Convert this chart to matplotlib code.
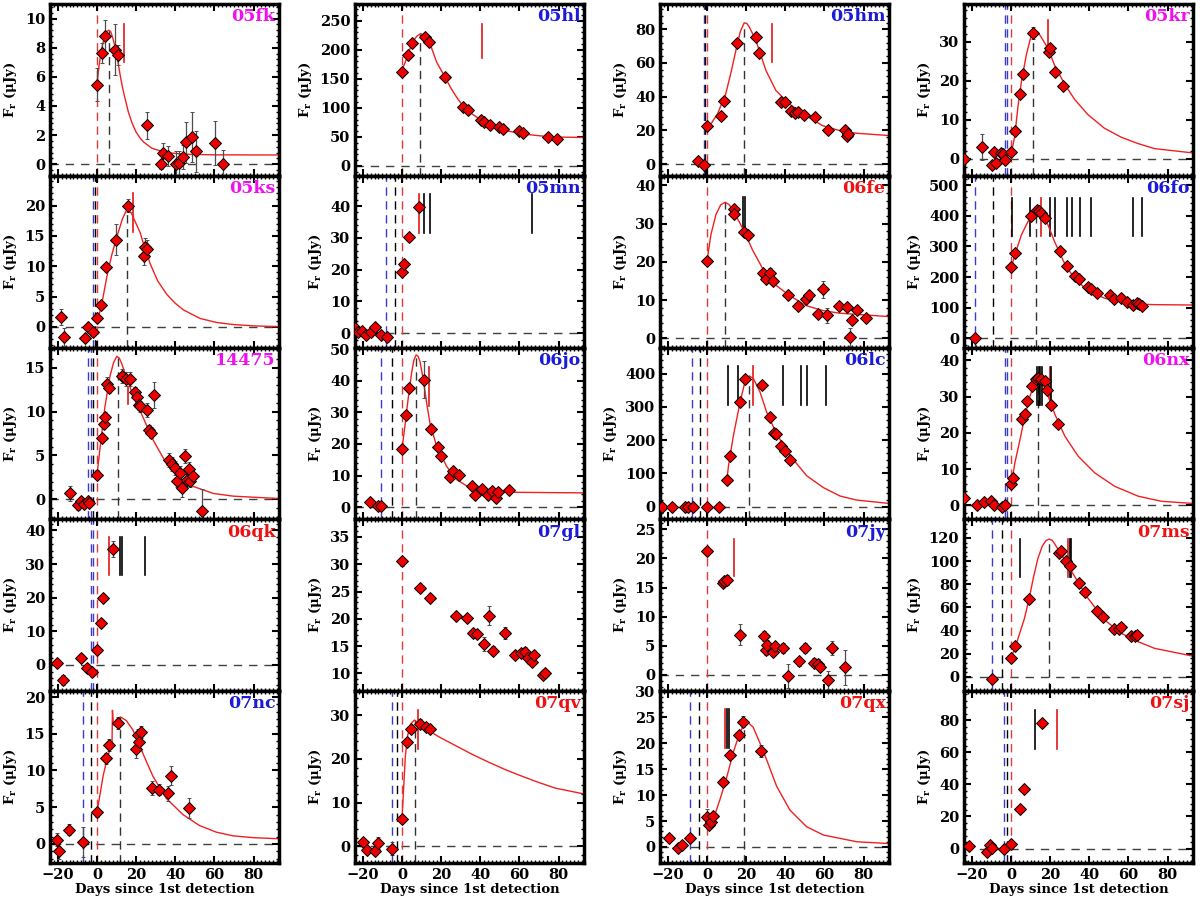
import matplotlib
matplotlib.use("Agg")
import matplotlib.pyplot as plt
from matplotlib.ticker import MultipleLocator, AutoMinorLocator

plt.rcParams['font.family'] = ['DejaVu Serif']
plt.rcParams['font.weight'] = 'bold'
plt.rcParams['mathtext.fontset'] = 'dejavuserif'
plt.rcParams['mathtext.default'] = 'bf'

MAG = '#ee11ee'
BLU = '#1a1ad8'
RED = '#ee1111'

# ---------------- data (days since 1st detection, flux in uJy) ----------------
fk_t = [0, 2.4, 3.9, 9.4, 10.9, 25.4, 32.5, 33.9, 36.5, 40.3, 42.0, 43.9, 45.6, 48.7, 50.4, 60.5, 64.3]
fk_f = [5.47, 7.62, 8.77, 7.85, 7.5, 2.66, 0.0, 0.78, 0.55, 0.0, 0.07, 0.5, 1.5, 1.85, 0.88, 1.43, 0.0]
fk_e = [1.1, 0.7, 1.1, 1.75, 0.7, 0.9, 0.3, 0.7, 0.7, 0.9, 0.8, 0.8, 1.4, 1.7, 1.4, 1.5, 1.0]
fk_ct = [0, 1, 2, 3, 4, 5, 6, 7, 8, 9, 10, 11, 12, 13, 14, 16, 18, 20, 22, 24, 28, 35, 45, 60, 93]
fk_cf = [5.5, 6.7, 7.6, 8.3, 8.8, 9.1, 9.2, 9.1, 8.7, 8.2, 7.6, 6.8, 6.0, 5.3, 4.7, 3.6, 2.8, 2.2, 1.8,
         1.5, 1.1, 0.8, 0.68, 0.64, 0.63]
fk_vl = [(0, 'r')]
fk_peak = (6.3, 9.2)
fk_spec = [(14.0, 'r')]
fk_sr = (7.0, 9.65)

ks_t = [-18.6, -16.7, -6.1, -4.4, -1.8, 0, 1.9, 4.6, 9.9, 16.1, 24.1, 24.5, 25.5]
ks_f = [1.7, -1.6, -1.9, 0.0, -0.85, 1.5, 3.55, 9.86, 14.4, 20.0, 11.7, 13.1, 12.8]
ks_e = [1.3, 1.5, 0.6, 0.3, 0.4, 0.6, 0.5, 0.6, 2.5, 1.0, 1.5, 1.5, 1.5]
ks_ct = [0, 2, 5, 7.5, 10.2, 13, 15.2, 17.5, 20, 22.1, 24.5, 27.2, 31, 35.7, 40, 44.2, 52.7, 61.2, 69.7, 80, 93]
ks_cf = [1.0, 3.0, 8.2, 11.8, 14.9, 17.8, 19.3, 18.8, 17.0, 15.5, 12.9, 10.4, 7.6, 5.35, 3.9, 2.8, 1.4,
         0.73, 0.4, 0.18, 0.05]
ks_vl = [(-1.8, 'b'), (-0.9, 'k'), (0, 'r')]
ks_peak = (15.2, 19.3)
ks_spec = [(18.6, 'r')]
ks_sr = (15.7, 22.1)

sn14475_t = [-13.6, -9.9, -8.2, -6.5, -4.8, -3.9, 0, 2.6, 3.4, 4.3, 5.0, 6.0, 12.8, 14.9, 16.9, 19.3, 20.3, 21.4,
             22.1, 25.5, 26.5, 27.5, 29.1, 36.6, 38.3, 40.0, 40.8, 42.5, 43.4, 45.1, 46.0, 46.8, 47.7, 48.9, 53.8]
sn14475_f = [0.66, -0.7, -0.23, -0.5, -0.23, -0.4, 2.8, 7.0, 8.6, 9.4, 13.2, 12.7, 14.1, 13.7, 13.7, 12.2, 11.7, 10.8,
             10.6, 10.2, 7.9, 7.6, 11.9, 4.45, 4.06, 3.6, 2.1, 3.0, 1.25, 4.96, 2.2, 3.5, 2.1, 2.7, -1.3]
sn14475_e = [0.9, 0.5, 0.5, 0.5, 0.5, 0.5, 0.5, 0.5, 0.5, 0.5, 0.7, 0.6, 0.8, 0.8, 0.8, 0.6, 0.6, 0.6,
             0.6, 0.8, 0.6, 0.6, 1.5, 0.8, 0.8, 0.8, 0.7, 0.8, 1.0, 0.8, 0.7, 0.8, 0.7, 0.7, 2.5]
sn14475_ct = [0, 1.6, 4.1, 6.7, 8.5, 10.1, 11.4, 12.6, 15.2, 18.6, 23.7, 28.8, 35.7, 42.5, 49.3, 59.5, 69.7, 93]
sn14475_cf = [2.8, 5.9, 10.6, 14.1, 15.6, 16.3, 16.1, 15.5, 13.75, 11.8, 9.26, 6.7, 4.0, 2.4, 1.45, 0.66, 0.35, 0.08]
sn14475_vl = [(-4.4, 'b'), (-3.2, 'b'), (-1.9, 'k'), (0, 'r')]
sn14475_peak = (10.5, 16.3)
sn14475_spec = [(15.6, 'r')]
sn14475_sr = (10.9, 12.8)

qk_t = [-20.3, -17.6, -8.3, -5.3, -2.4, 0, 1.9, 2.9, 8.4]
qk_f = [0.5, -4.5, 2.0, -1.0, -2.0, 4.5, 12.6, 19.9, 34.5]
qk_e = [1.0, 1.5, 0.8, 0.8, 0.8, 1.0, 0.8, 0.8, 2.5]
qk_vl = [(-3.1, 'b'), (-2.2, 'b'), (0, 'r')]
qk_spec = [(6.1, 'r'), (12.0, 'k'), (12.8, 'k'), (24.6, 'k')]
qk_sr = (26.9, 38.0)

nc_t = [-20.2, -19.3, -14.2, -6.9, 0, 4.6, 6.3, 10.9, 19.9, 21.0, 21.6, 22.6, 28.0, 31.7, 36.1, 37.8, 47.0]
nc_f = [0.6, -1.0, 1.95, 0.27, 4.3, 11.65, 13.45, 16.5, 12.9, 14.9, 13.9, 15.2, 7.6, 7.4, 6.9, 9.3, 4.9]
nc_e = [0.9, 1.0, 0.8, 2.0, 0.6, 0.8, 0.8, 0.8, 1.2, 0.8, 0.8, 0.8, 1.0, 0.8, 1.0, 1.3, 1.4]
nc_ct = [0, 1.4, 3.1, 4.8, 6.5, 7.7, 7.9, 8.4, 9.9, 11.9, 15.0, 18.4, 23.5, 28.6, 35.4, 43.9, 52.4, 61.0, 69.5,
         80, 93]
nc_cf = [4.3, 6.5, 9.2, 11.2, 12.8, 13.9, 18.2, 16.2, 16.9, 17.3, 16.8, 15.5, 12.3, 9.2, 6.2, 4.0, 2.5, 1.6, 1.1,
         0.85, 0.7]
nc_vl = [(-6.9, 'b'), (-3.2, 'k'), (0, 'r')]
nc_peak = (11.8, 17.3)

hl_t = [0, 2.9, 5.0, 11.8, 13.7, 22.0, 31.4, 33.6, 40.2, 42.1, 45.0, 49.7, 51.8, 60.0, 62.0, 74.5, 79.0]
hl_f = [161.7, 190.5, 212, 222, 213.6, 154, 101, 96.4, 79, 75, 71, 67.5, 63, 59.5, 56, 49, 46]
hl_e = [4] * 17
hl_ct = [0, 2.4, 5.0, 7.5, 9.6, 11.8, 14.3, 17.7, 22, 25, 28, 31, 34.8, 40, 45, 53.5, 62, 75.7, 93]
hl_cf = [165, 185, 211, 223.4, 228, 223, 211, 179, 153, 134, 118, 104, 92, 80, 72, 60.6, 55, 50, 49]
hl_vl = [(0, 'r')]
hl_peak = (9.2, 228)
hl_spec = [(41.0, 'r')]
hl_sr = (186.5, 244)

mn_t = [-23.8, -22.7, -20.6, -18.4, -16.0, -13.8, -10.9, -7.8, 0, 1.2, 3.8, 8.5]
mn_f = [1.6, 0.3, 0.86, -0.5, 0.3, 1.9, -0.4, -1.3, 19.4, 21.8, 30.3, 39.8]
mn_e = [0.5, 0.5, 0.5, 0.5, 0.5, 0.5, 0.5, 1.5, 0.8, 0.8, 0.8, 1.0]
mn_vl = [(-8.1, 'b'), (-3.8, 'k'), (0, 'r')]
mn_spec = [(8.5, 'r'), (11.4, 'k'), (14.3, 'k'), (66.2, 'k')]
mn_sr = (31.4, 43.8)

jo_t = [-16.1, -12.4, -10.9, 0, 2.0, 3.8, 11.1, 14.7, 18.4, 20.1, 24.7, 26.2, 29.3, 35.6, 37.5, 41.1, 43.8,
        46.2, 48.0, 49.2, 54.5]
jo_f = [1.7, 0.3, 0.3, 18.5, 29.3, 37.7, 40.3, 24.7, 19.0, 16.1, 9.5, 11.4, 10.1, 6.6, 3.8, 5.6, 3.8,
        5.05, 2.95, 4.7, 5.4]
jo_e = [0.5, 0.5, 0.5, 0.6, 0.6, 0.6, 5.9, 0.8, 0.6, 0.6, 0.6, 0.6, 0.6, 1.3, 0.6, 0.6, 0.6,
        0.6, 0.6, 0.6, 0.6]
jo_ct = [0, 1.5, 3.2, 4.9, 6.0, 7.2, 8.2, 9.2, 10.9, 12.6, 14.3, 17.7, 22.8, 27.9, 34.7, 41.5, 53.5, 93]
jo_cf = [18.5, 25.6, 34.5, 42.4, 46.3, 48.2, 47.8, 46.1, 40.3, 33, 26.6, 19.3, 12.9, 8.7, 6.1, 5.05, 4.7, 4.5]
jo_vl = [(-10.7, 'b'), (-5.1, 'k'), (0, 'r')]
jo_peak = (7.2, 48.2)
jo_spec = [(13.6, 'r')]
jo_sr = (32.1, 44.3)

gl_t = [0, 9.4, 14.5, 27.6, 33.4, 36.1, 38.2, 41.9, 44.6, 46.7, 52.6, 57.9, 60.6, 62.9, 64.4, 66.4, 67.5, 71.9, 73.2]
gl_f = [30.5, 25.6, 23.8, 20.5, 20.2, 17.35, 17.2, 15.4, 20.6, 14.2, 17.35, 13.4, 13.7, 14.0, 12.8, 12.1, 13.4, 9.7, 10.0]
gl_e = [0.8, 0.5, 0.5, 0.5, 0.5, 0.6, 0.8, 1.3, 1.7, 0.8, 1.1, 0.6, 0.6, 0.8, 0.6, 0.6, 0.6, 0.6, 0.6]
gl_vl = [(0, 'r')]

qv_t = [-20.1, -18.0, -13.8, -12.1, -5.0, 0, 2.6, 4.6, 9.0, 12.4, 14.5]
qv_f = [0.9, -0.76, -1.1, 0.76, -0.5, 6.3, 23.9, 26.8, 28.1, 27.3, 26.8]
qv_e = [0.6, 0.6, 0.6, 1.3, 1.5, 0.8, 0.8, 0.8, 1.0, 0.8, 0.8]
qv_ct = [0, 0.9, 1.7, 2.9, 4.6, 6.4, 8.0, 10.6, 19.1, 27.6, 36.1, 44.6, 53.1, 61.6, 70, 78.6, 93]
qv_cf = [6.3, 13.7, 20.5, 25.4, 28.1, 28.9, 28.3, 27.3, 25.0, 23.0, 21.0, 19.2, 17.5, 16.0, 14.6, 13.3, 12.0]
qv_vl = [(-5.0, 'b'), (-2.6, 'k'), (0, 'r')]
qv_peak = (6.4, 28.9)
qv_spec = [(8.4, 'r')]
qv_sr = (22.2, 31.1)

hm_t = [-4.4, -1.5, 0, 7.1, 8.9, 15.3, 24.9, 26.7, 37.8, 39.8, 42.9, 44.8, 46.7, 49.4, 55.2, 61.6, 70.3, 71.4, 72.2]
hm_f = [1.6, -0.4, 22.8, 28.8, 37.7, 71.9, 75.4, 66.1, 37.1, 36.7, 31.2, 30.2, 30.8, 29.2, 27.8, 20.2, 20.2, 16.9, 17.9]
hm_e = [1.0] * 19
hm_ct = [0, 2.0, 5.4, 9.6, 12.2, 14.8, 17.0, 19.0, 20.3, 21.6, 25.0, 30.1, 35.2, 42.0, 50.5, 59, 67.6, 76.1, 93]
hm_cf = [20.8, 23.8, 29.8, 41.7, 54, 67.5, 78.5, 83.8, 83.5, 81.4, 73.4, 55.6, 43.7, 35.7, 28.8, 22.8, 19.9, 18.3, 16.9]
hm_vl = [(-1.3, 'b'), (-0.8, 'k'), (0, 'r')]
hm_peak = (19.1, 83.8)
hm_spec = [(33.3, 'r')]
hm_sr = (60.5, 83.0)

fe_t = [0, 13.8, 13.9, 18.8, 21.2, 28.4, 30.0, 32.2, 33.9, 41.2, 46.6, 50.6, 52.2, 56.9, 59.4, 61.1, 67.6, 71.3,
        73.9, 73.0, 76.8, 81.2]
fe_f = [20.2, 33.7, 32.4, 27.8, 27.1, 17.0, 15.6, 17.0, 14.9, 11.4, 8.4, 10.4, 11.4, 6.4, 12.8, 6.0, 8.4, 8.2,
        4.9, 0.3, 7.3, 5.3]
fe_e = [0.6, 0.6, 0.6, 0.6, 0.6, 0.8, 0.8, 1.3, 0.8, 0.8, 0.8, 0.8, 0.8, 0.8, 2.3, 2.0, 0.8, 0.8,
        0.8, 2.3, 0.8, 0.8]
fe_ct = [0, 2.0, 4.6, 7.0, 9.3, 11.2, 13.1, 18.2, 23.3, 28.4, 35.2, 42, 50.5, 59, 67.6, 93]
fe_cf = [20.2, 27.1, 32.4, 34.9, 35.6, 35.0, 33.7, 28.8, 23.1, 18.3, 13.9, 11.3, 8.6, 7.3, 6.6, 5.7]
fe_vl = [(0, 'r')]
fe_peak = (9.3, 35.6)
fe_spec = [(18.6, 'k'), (19.4, 'k')]
fe_sr = (28.0, 36.9)

lc_t = [-22.8, -17.7, -11.2, -9.5, -7.3, 0, 6.1, 10.0, 11.9, 16.8, 19.4, 28.2, 32.2, 34.2, 35.1, 37.6, 39.8, 42.5]
lc_f = [0, 0, 0, 0, 0, 0, 0, 80.6, 151, 316, 385, 367, 269, 222, 219, 181, 166, 141]
lc_e = [5] * 18
lc_ct = [10, 11, 13.5, 16.9, 19.4, 21.6, 23.7, 27.1, 30.5, 35.6, 42.5, 51, 59.5, 68, 76.5, 93]
lc_cf = [72.5, 123, 213.6, 314, 375, 393, 385, 344.6, 284, 218.6, 153, 92.7, 57.4, 32.2, 20, 10]
lc_vl = [(-7.5, 'b'), (-3.6, 'k'), (0, 'r')]
lc_peak = (21.3, 393)
lc_spec = [(10.9, 'k'), (15.6, 'k'), (23.3, 'r'), (38.6, 'k'), (48.0, 'k'), (51.1, 'k'), (60.8, 'k')]
lc_sr = (307, 423)

jy_t = [0, 8.0, 8.8, 10.0, 16.9, 29.1, 30.1, 30.9, 33.5, 34.9, 39.0, 41.4, 47.0, 49.9, 54.5, 56.7, 57.9, 61.9, 63.9, 70.4]
jy_f = [21.3, 15.7, 16.1, 16.3, 6.9, 6.7, 4.2, 5.2, 4.0, 4.9, 4.6, -0.2, 2.3, 4.6, 2.1, 1.9, 1.4, -0.9, 4.6, 1.3]
jy_e = [0.5, 0.6, 0.6, 0.8, 1.8, 0.8, 0.8, 0.8, 0.8, 0.8, 0.8, 2.0, 0.8, 0.8, 0.8, 0.8, 0.8, 1.5, 1.2, 3.0]
jy_vl = [(0, 'r')]
jy_spec = [(13.9, 'r')]
jy_sr = (17.0, 23.4)

qx_t = [-19.4, -14.9, -12.9, -8.7, 0, 1.0, 2.0, 3.2, 8.3, 12.0, 16.5, 18.5, 27.4]
qx_f = [1.8, -0.3, 0.3, 1.8, 5.8, 4.2, 4.9, 6.0, 12.5, 17.7, 21.6, 24.2, 18.5]
qx_e = [0.5, 0.5, 0.5, 0.5, 1.5, 0.6, 0.6, 0.6, 0.8, 0.8, 0.8, 1.0, 1.1]
qx_ct = [0, 3.2, 6.6, 10, 13.4, 16.8, 19.4, 21.0, 23.6, 27, 30.4, 35.6, 42.4, 50.9, 59.5, 76.5, 93]
qx_cf = [3.9, 5.3, 9.1, 13.3, 18.2, 22.1, 23.8, 24.0, 23.1, 20.1, 16.9, 11.7, 7.1, 3.9, 2.3, 1.0, 0.65]
qx_vl = [(-8.7, 'b'), (-4.1, 'k'), (0, 'r')]
qx_peak = (18.8, 24.0)
qx_spec = [(9.1, 'r'), (10.3, 'k'), (11.3, 'k')]
qx_sr = (19.0, 26.6)

kr_t = [-23.8, -14.6, -9.5, -8.6, -7.8, -4.9, -4.0, -2.9, 0, 1.9, 4.4, 6.1, 11.2, 19.3, 20.1, 22.3, 26.8]
kr_f = [0, 3.0, -1.5, 1.7, -1.1, 1.5, 1.1, -0.3, 1.7, 7.0, 16.5, 21.7, 32.2, 27.2, 28.3, 22.3, 18.5]
kr_e = [0.5, 3.4, 0.8, 0.6, 0.6, 0.6, 0.6, 0.6, 0.6, 0.6, 0.6, 0.6, 1.5, 0.6, 0.6, 0.6, 0.6]
kr_ct = [0, 1.9, 3.6, 5.3, 7.8, 10.4, 12.1, 14.7, 18.9, 22.3, 27.4, 32.5, 39.3, 47.8, 56.4, 64.9, 73.4, 93]
kr_cf = [1.1, 5.65, 13.5, 19.6, 26.5, 31.7, 33.0, 31.7, 28.3, 23.9, 19.1, 15.2, 11.3, 7.8, 5.5, 3.9, 2.6, 1.5]
kr_vl = [(-3.0, 'b'), (-2.0, 'b'), (0, 'r')]
kr_peak = (11.2, 33.0)
kr_spec = [(18.9, 'r')]
kr_sr = (27.0, 35.4)

fo_t = [-18.2, 0, 1.9, 10.4, 13.5, 14.1, 15.5, 17.2, 24.8, 28.6, 32.5, 34.6, 39.3, 40.7, 44.0, 50.4, 52.5,
        56.4, 59.3, 62.3, 64.6, 65.2, 67.1]
fo_f = [0, 233, 277, 398, 420, 414, 409, 392, 285, 236, 205, 194, 167, 161.5, 148, 141.8, 128.6,
        130.8, 117.6, 108.8, 114.3, 112, 104.4]
fo_e = [5] * 23
fo_ct = [0, 1.9, 5.3, 8.7, 12.1, 13.8, 16.4, 18.9, 22.3, 27.4, 32.5, 39.3, 47.8, 56.4, 64.9, 73.4, 93]
fo_cf = [227, 271, 337, 381, 414, 420, 403, 370, 315, 244, 194.5, 156, 131, 117.6, 112, 110, 108.8]
fo_vl = [(-18.2, 'b'), (-9.0, 'k'), (0, 'r')]
fo_peak = (12.9, 420)
fo_spec = [(0.6, 'k'), (9.5, 'k'), (15.1, 'r'), (20.1, 'k'), (22.6, 'k'), (28.6, 'k'), (31.1, 'k'),
           (35.1, 'k'), (41.1, 'k'), (62.4, 'k'), (66.9, 'k')]
fo_sr = (334, 458)

nx_t = [-23.8, -17.2, -13.8, -10.4, -8.7, -4.4, -2.9, 0, 1.0, 5.8, 7.0, 8.3, 10.9, 12.6, 13.8, 15.2, 17.2,
        18.6, 20.6, 24.2]
nx_f = [2.0, 0.2, 0.9, 1.1, 0, -0.5, 0, 5.9, 7.4, 23.9, 25.3, 28.9, 32.8, 34.9, 35.1, 34.7, 34.4,
        31.7, 27.8, 22.3]
nx_e = [0.5, 0.5, 0.5, 0.5, 0.5, 0.5, 0.5, 0.6, 0.6, 1.0, 0.8, 0.8, 0.8, 1.0, 1.0, 1.0, 1.0,
        0.8, 0.8, 0.8]
nx_ct = [0, 2.0, 4.6, 7.1, 9.7, 12.2, 14.3, 16.5, 19.0, 22.5, 27.6, 34.4, 42.9, 53.1, 65.0, 76.9, 93]
nx_cf = [5.2, 11.7, 18.1, 24.6, 30.1, 33.7, 34.5, 33.3, 30.1, 25.0, 19.0, 13.5, 8.9, 5.2, 2.5, 1.1, 0.5]
nx_vl = [(-2.8, 'b'), (-1.9, 'b'), (0, 'r')]
nx_peak = (13.6, 34.5)
nx_spec = [(13.4, 'k'), (14.1, 'k'), (14.9, 'k'), (15.8, 'k'), (19.9, 'r'), (20.6, 'k')]
nx_sr = (27.8, 38.2)

ms_t = [-9.5, 0, 1.9, 9.2, 24.6, 25.4, 27.9, 30.0, 34.6, 37.6, 44.1, 47.0, 52.6, 55.2, 56.4, 61.2, 63.2, 64.6]
ms_f = [-1.5, 15.9, 26.9, 67.1, 107, 109, 100.3, 96, 81, 72.9, 57.3, 52, 41.6, 41.1, 42.8, 35.3, 35.6, 36.1]
ms_e = [2] * 18
ms_ct = [0, 3.4, 6.8, 9.2, 11.5, 13.7, 16.0, 17.8, 19.4, 21.0, 22.3, 27.4, 32.5, 39.3, 47.8, 56.4, 64.9, 73.4, 93]
ms_cf = [15.9, 32, 50, 67, 86, 102, 113, 117.5, 119, 118, 115, 101, 86.8, 68, 49.2, 37.6, 30.4, 24.6, 17.9]
ms_vl = [(-9.5, 'b'), (-4.4, 'k'), (0, 'r')]
ms_peak = (19.4, 119)
ms_spec = [(4.8, 'k'), (29.1, 'r'), (30.0, 'k'), (30.8, 'k')]
ms_sr = (86.2, 119.4)

sj_t = [-21.6, -12.2, -10.8, -9.7, -3.7, 0, 4.8, 6.5, 15.9]
sj_f = [1.5, -2.1, 2.1, 0.6, 0, 3.1, 24.4, 37, 78.3]
sj_e = [1.0, 1.0, 1.0, 1.0, 1.0, 1.0, 1.0, 1.0, 1.5]
sj_vl = [(-3.7, 'b'), (-2.0, 'k'), (0, 'r')]
sj_spec = [(12.1, 'k'), (23.5, 'r')]
sj_sr = (62.2, 86.2)

# panels in row-major order
panels = [
    dict(name='05fk', c=MAG, t=fk_t, f=fk_f, e=fk_e, ct=fk_ct, cf=fk_cf, vl=fk_vl, pk=fk_peak, sp=fk_spec, sr=fk_sr, yl=(-0.8, 11), st=2),
    dict(name='05hl', c=BLU, t=hl_t, f=hl_f, e=hl_e, ct=hl_ct, cf=hl_cf, vl=hl_vl, pk=hl_peak, sp=hl_spec, sr=hl_sr, yl=(-17, 279), st=50),
    dict(name='05hm', c=BLU, t=hm_t, f=hm_f, e=hm_e, ct=hm_ct, cf=hm_cf, vl=hm_vl, pk=hm_peak, sp=hm_spec, sr=hm_sr, yl=(-7, 95), st=20),
    dict(name='05kr', c=MAG, t=kr_t, f=kr_f, e=kr_e, ct=kr_ct, cf=kr_cf, vl=kr_vl, pk=kr_peak, sp=kr_spec, sr=kr_sr, yl=(-4.35, 39.6), st=10),
    dict(name='05ks', c=MAG, t=ks_t, f=ks_f, e=ks_e, ct=ks_ct, cf=ks_cf, vl=ks_vl, pk=ks_peak, sp=ks_spec, sr=ks_sr, yl=(-3.4, 24.9), st=5),
    dict(name='05mn', c=BLU, t=mn_t, f=mn_f, e=mn_e, ct=None, cf=None, vl=mn_vl, pk=None, sp=mn_spec, sr=mn_sr, yl=(-4.5, 49.5), st=10),
    dict(name='06fe', c=RED, t=fe_t, f=fe_f, e=fe_e, ct=fe_ct, cf=fe_cf, vl=fe_vl, pk=fe_peak, sp=fe_spec, sr=fe_sr, yl=(-2.4, 42.5), st=10),
    dict(name='06fo', c=BLU, t=fo_t, f=fo_f, e=fo_e, ct=fo_ct, cf=fo_cf, vl=fo_vl, pk=fo_peak, sp=fo_spec, sr=fo_sr, yl=(-30, 530), st=100),
    dict(name='14475', c=MAG, t=sn14475_t, f=sn14475_f, e=sn14475_e, ct=sn14475_ct, cf=sn14475_cf, vl=sn14475_vl,
         pk=sn14475_peak, sp=sn14475_spec, sr=sn14475_sr, yl=(-2.3, 17.3), st=5),
    dict(name='06jo', c=BLU, t=jo_t, f=jo_f, e=jo_e, ct=jo_ct, cf=jo_cf, vl=jo_vl, pk=jo_peak, sp=jo_spec, sr=jo_sr, yl=(-3.9, 50.5), st=10),
    dict(name='06lc', c=BLU, t=lc_t, f=lc_f, e=lc_e, ct=lc_ct, cf=lc_cf, vl=lc_vl, pk=lc_peak, sp=lc_spec, sr=lc_sr, yl=(-38, 478), st=100),
    dict(name='06nx', c=MAG, t=nx_t, f=nx_f, e=nx_e, ct=nx_ct, cf=nx_cf, vl=nx_vl, pk=nx_peak, sp=nx_spec, sr=nx_sr, yl=(-3.9, 43.5), st=10),
    dict(name='06qk', c=RED, t=qk_t, f=qk_f, e=qk_e, ct=None, cf=None, vl=qk_vl, pk=None, sp=qk_spec, sr=qk_sr, yl=(-7.8, 43.3), st=10),
    dict(name='07gl', c=BLU, t=gl_t, f=gl_f, e=gl_e, ct=None, cf=None, vl=gl_vl, pk=None, sp=[], sr=None, yl=(6.75, 38.2), st=5),
    dict(name='07jy', c=BLU, t=jy_t, f=jy_f, e=jy_e, ct=None, cf=None, vl=jy_vl, pk=None, sp=jy_spec, sr=jy_sr, yl=(-2.8, 26.7), st=5),
    dict(name='07ms', c=RED, t=ms_t, f=ms_f, e=ms_e, ct=ms_ct, cf=ms_cf, vl=ms_vl, pk=ms_peak, sp=ms_spec, sr=ms_sr, yl=(-12.4, 136), st=20),
    dict(name='07nc', c=BLU, t=nc_t, f=nc_f, e=nc_e, ct=nc_ct, cf=nc_cf, vl=nc_vl, pk=nc_peak, sp=[], sr=None, yl=(-2.6, 20.8), st=5),
    dict(name='07qv', c=RED, t=qv_t, f=qv_f, e=qv_e, ct=qv_ct, cf=qv_cf, vl=qv_vl, pk=qv_peak, sp=qv_spec, sr=qv_sr, yl=(-3.8, 35.5), st=10),
    dict(name='07qx', c=RED, t=qx_t, f=qx_f, e=qx_e, ct=qx_ct, cf=qx_cf, vl=qx_vl, pk=qx_peak, sp=qx_spec, sr=qx_sr, yl=(-3.1, 30.05), st=5),
    dict(name='07sj', c=RED, t=sj_t, f=sj_f, e=sj_e, ct=None, cf=None, vl=sj_vl, pk=None, sp=sj_spec, sr=sj_sr, yl=(-9, 98), st=20),
]

W, H = 1200, 899
fig = plt.figure(figsize=(W / 100, H / 100), dpi=100)

col_left = [50, 355, 660, 964]
pw = 229
top0 = 4
ph = 171.8
vcol = {'r': '#e03a3a', 'b': '#3a3ad0', 'k': 'k'}
scol = {'r': '#e01818', 'k': 'k'}

for i, p in enumerate(panels):
    r, c = divmod(i, 4)
    y_top = top0 + r * ph
    ax = fig.add_axes([col_left[c] / W, 1 - (y_top + ph) / H, pw / W, ph / H])
    ax.set_xlim(-24, 93)
    ax.set_ylim(*p['yl'])

    ax.axhline(0, color='0.25', lw=1, ls=(0, (6, 5)), zorder=1)
    for d, k in p['vl']:
        ax.axvline(d, color=vcol[k], lw=1, ls=(0, (6, 4)), zorder=1)
    if p['pk'] is not None:
        ax.plot([p['pk'][0], p['pk'][0]], [p['yl'][0], p['pk'][1]], color='0.2', lw=1,
                ls=(0, (6, 4)), zorder=1)
    for d, k in p['sp']:
        ax.plot([d, d], p['sr'], color=scol[k], lw=1.2, zorder=2)
    if p['ct'] is not None:
        ax.plot(p['ct'], p['cf'], color='#f02020', lw=1, zorder=2)
    ax.errorbar(p['t'], p['f'], yerr=p['e'], fmt='D', ms=6.5, mfc='#ee0000', mec='k', mew=0.7,
                ecolor='0.3', elinewidth=0.9, capsize=1.5, zorder=3)

    ax.text(0.985, 0.975, p['name'], transform=ax.transAxes, ha='right', va='top',
            color=p['c'], fontsize=12.5, fontweight='bold')

    ax.xaxis.set_major_locator(MultipleLocator(20))
    ax.xaxis.set_minor_locator(AutoMinorLocator(10))
    ax.yaxis.set_major_locator(MultipleLocator(p['st']))
    ax.yaxis.set_minor_locator(AutoMinorLocator(5))
    ax.tick_params(which='both', direction='in', top=True, right=True)
    ax.tick_params(which='major', length=5, width=1.5, labelsize=10.5)
    ax.tick_params(which='minor', length=2.5, width=1)
    for s in ax.spines.values():
        s.set_linewidth(2.5)
    ax.set_ylabel(r'F$_\mathbf{r}$ (μJy)', fontsize=9.5, fontweight='bold')
    if r == 4:
        ax.set_xlabel('Days since 1st detection', fontsize=9.5, fontweight='bold', labelpad=1)
    else:
        ax.tick_params(labelbottom=False)

fig.savefig('out.png', dpi=100)
